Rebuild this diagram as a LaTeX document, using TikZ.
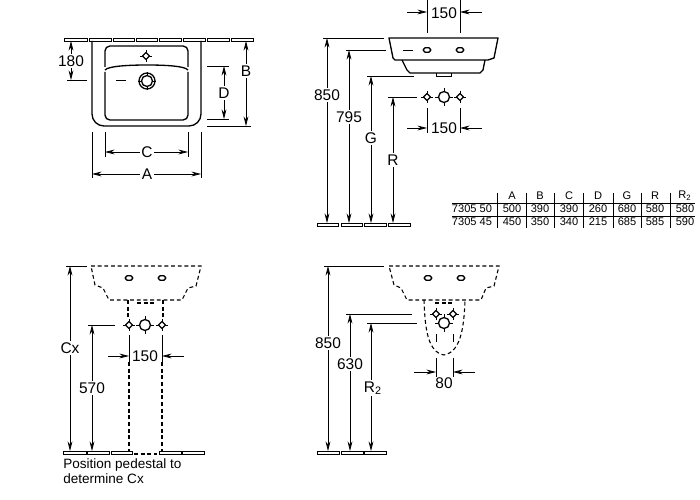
\documentclass[tikz,border=0pt]{standalone}
\usepackage{fontspec}
\setmainfont{Liberation Sans}
\usetikzlibrary{arrows.meta}
\tikzset{
  thick line/.style={black,line width=0.75pt,line join=round},
  thin line/.style={black,line width=0.45pt},
  dash line/.style={black,line width=0.62pt,dash pattern=on 2.2pt off 1.6pt},
  dim line/.style={black,line width=0.45pt,{Stealth[length=5.5pt,width=2.8pt]}-{Stealth[length=5.5pt,width=2.8pt]}},
  dim arrow/.style={black,line width=0.45pt,-{Stealth[length=5.5pt,width=2.8pt]}},
  dim label/.style={fill=white,inner sep=1pt,font=\fontsize{8.8}{10}\selectfont},
  cell label/.style={inner sep=0pt,font=\fontsize{6.3}{8}\selectfont},
  note label/.style={inner sep=0pt,anchor=west,font=\fontsize{7.7}{9}\selectfont}
}
\newcommand{\tapsmall}[2]{
  \draw [thin line] (#1-6,#2) -- (#1+6,#2) (#1,#2-6) -- (#1,#2+6);
  \draw [thick line,fill=white] (#1,#2+3.5) -- (#1+3.5,#2) -- (#1,#2-3.5) -- (#1-3.5,#2) -- cycle;
}
\newcommand{\tapbig}[2]{
  \draw [thin line] (#1-9,#2) -- (#1+9,#2) (#1,#2-9) -- (#1,#2+9);
  \draw [thick line,fill=white] (#1,#2) circle (5.5);
}
\newcommand{\holeside}[2]{
  \draw [thick line] (#1-4,#2) -- (#1-2,#2-2.2) -- (#1+2,#2-2.2) -- (#1+4,#2) -- (#1+2,#2+2.2) -- (#1-2,#2+2.2) -- cycle;
}
\newcommand{\tile}[3]{
  \draw [thin line,fill=white] (#1,#3) rectangle (#2,#3-3);
}
\begin{document}
\begin{tikzpicture}[x=0.02cm,y=0.02cm]
\useasboundingbox (0,0) rectangle (700,-500);
% top left plan
\foreach \a/\b in {64/87,89/111,113/134,136/157,159/181,183/205,207/229,231/253}
  \tile{\a}{\b}{-38};
\draw [thick line] (92,-41) -- (92,-114) arc (180:270:12) -- (189,-126) arc (270:360:12) -- (201,-41);
\draw [thick line,rounded corners=2.8pt] (105,-67) -- (105,-46) -- (188,-46) -- (188,-67);
\draw [thick line,rounded corners=2.8pt] (105,-72) -- (105,-120) -- (188,-120) -- (188,-72);
\draw [thick line] (105,-70) .. controls (108,-66) and (130,-65) .. (147,-65) .. controls (165,-65) and (185,-66) .. (188,-70);
\tapsmall{146}{-56}
\tapbig{147}{-81}
\draw [thick line] (147,-81) circle (8);
\draw [thin line] (67,-80) -- (87,-80);
\draw [thin line] (116,-80) -- (126,-80);
\draw [thin line] (207,-66) -- (229,-66);
\draw [thin line] (207,-119) -- (229,-119);
\draw [thin line] (207,-126) -- (251,-126);
\draw [thin line] (92,-132) -- (92,-178);
\draw [thin line] (201,-132) -- (201,-178);
\draw [thin line] (105,-132) -- (105,-157);
\draw [thin line] (188,-132) -- (188,-157);
\draw [dim line] (71,-41) -- (71,-80);
\draw [dim line] (224,-66) -- (224,-119);
\draw [dim line] (246,-41) -- (246,-126);
\draw [dim line] (105,-152) -- (188,-152);
\draw [dim line] (92,-174) -- (201,-174);
\node [dim label] (lbl180) at (71,-61) {180};
\node [dim label] (lblD) at (224,-93) {D};
\node [dim label] (lblB) at (246,-71) {B};
\node [dim label] (lblC) at (147,-152) {C};
\node [dim label] (lblA) at (147,-174) {A};
% top right side view
\draw [thick line,line join=round] (389,-38) -- (498,-38) -- (494,-58) -- (488,-60) -- (395,-60) -- (393,-58) -- cycle;
\draw [thick line] (402,-60) -- (407,-70) -- (410,-73) -- (480,-73) -- (483,-70) -- (485,-60);
\draw [thin line] (436,-73) -- (436,-76) -- (451,-76) -- (451,-73);
\holeside{427}{-50}
\holeside{460}{-50}
\tapsmall{427}{-97}
\tapbig{444}{-97}
\tapsmall{460}{-97}
\foreach \a/\b in {317/338,341/362,364/386,388/410}
  \tile{\a}{\b}{-223};
\draw [thin line] (323,-38) -- (384,-38);
\draw [thin line] (346,-50) -- (386,-50);
\draw [thin line] (403,-50) -- (413,-50);
\draw [thin line] (367,-76) -- (414,-76);
\draw [thin line] (388,-97) -- (417,-97);
\draw [dim line] (327,-38) -- (327,-223);
\draw [dim line] (349,-50) -- (349,-223);
\draw [dim line] (371,-76) -- (371,-223);
\draw [dim line] (393,-97) -- (393,-223);
\draw [thin line] (427,0) -- (427,-33);
\draw [thin line] (460,0) -- (460,-33);
\draw [dim arrow] (407,-12) -- (427,-12);
\draw [dim arrow] (482,-12) -- (460,-12);
\draw [thin line] (427,-108) -- (427,-133);
\draw [thin line] (460,-108) -- (460,-133);
\draw [dim arrow] (407,-128) -- (427,-128);
\draw [dim arrow] (482,-128) -- (460,-128);
\node [dim label,inner sep=0pt] (lblTopW) at (444,-13) {150};
\node [dim label,inner sep=0pt] (lblLowW) at (444,-128) {150};
\node [dim label] (lbl850) at (327,-95) {850};
\node [dim label] (lbl795) at (349,-117) {795};
\node [dim label] (lblG) at (371,-138) {G};
\node [dim label] (lblR) at (393,-160) {R};
% table
\draw [thin line] (452,-203) -- (695,-203);
\draw [thin line] (452,-216) -- (695,-216);
\foreach \x in {497,526,554,583,613,641,670}
  \draw [thin line] (\x,-193) -- (\x,-228);
\node [cell label] (rowOne) at (472,-209) {7305 50};
\node [cell label] (rowTwo) at (472,-222) {7305 45};
\foreach \x/\h/\p/\q in {512/A/500/450,540/B/390/350,569/C/390/340,598/D/260/215,627/G/680/685,655/R/580/585,685/R\textsubscript{2}/580/590}{
  \node [cell label] (head\x) at (\x,-196) {\h};
  \node [cell label] (one\x) at (\x,-209) {\p};
  \node [cell label] (two\x) at (\x,-222) {\q};
}
% bottom left pedestal
\draw [dash line] (91,-266) -- (201,-266) -- (196,-286) -- (188,-288) -- (182,-300) -- (109,-300) -- (103,-288) -- (95,-285) -- cycle;
\draw [dash line] (128,-300) -- (128,-318);
\draw [dash line] (163,-300) -- (163,-318);
\draw [dash line] (137,-303) -- (155,-303);
\holeside{129}{-278}
\holeside{162}{-278}
\tapsmall{129}{-325}
\tapbig{145}{-325}
\tapsmall{162}{-325}
\foreach \a/\b in {63/86,87/109,111/132,159/181,182/204}
  \tile{\a}{\b}{-451};
\draw [dash line] (134,-454) -- (157,-454);
\draw [thin line] (129,-335) -- (129,-362);
\draw [thin line] (162,-335) -- (162,-362);
\draw [dash line] (129,-362) -- (129,-452);
\draw [dash line] (162,-362) -- (162,-452);
\draw [thin line] (66,-266) -- (87,-266);
\draw [thin line] (88,-325) -- (115,-325);
\draw [dim line] (70,-266) -- (70,-451);
\draw [dim line] (92,-325) -- (92,-451);
\draw [dim arrow] (108,-356) -- (129,-356);
\draw [dim arrow] (184,-356) -- (162,-356);
\node [dim label] (lblCx) at (70,-348) {Cx};
\node [dim label] (lbl570) at (92,-388) {570};
\node [dim label,inner sep=0pt] (lblPedW) at (145,-356) {150};
\node [note label] (noteOne) at (63,-465) {Position pedestal to};
\node [note label] (noteTwo) at (63,-479) {determine Cx};
% bottom right half pedestal
\draw [dash line] (389,-266) -- (499,-266) -- (494,-286) -- (486,-288) -- (481,-300) -- (407,-300) -- (401,-288) -- (394,-285) -- cycle;
\draw [dash line] (424,-300) .. controls (425,-330) and (428,-352) .. (444,-355) .. controls (460,-352) and (464,-330) .. (465,-300);
\draw [dash line] (435,-303) -- (453,-303);
\holeside{428}{-278}
\holeside{461}{-278}
\tapsmall{436}{-314}
\tapsmall{453}{-314}
\tapbig{444}{-323}
\foreach \a/\b in {317/339,341/363,364/386}
  \tile{\a}{\b}{-451};
\draw [thin line] (436,-334) -- (436,-342);
\draw [thin line] (453,-334) -- (453,-342);
\draw [thin line] (436,-358) -- (436,-377);
\draw [thin line] (453,-358) -- (453,-377);
\draw [thin line] (324,-266) -- (384,-266);
\draw [thin line] (346,-314) -- (412,-314);
\draw [thin line] (367,-323) -- (417,-323);
\draw [dim line] (328,-266) -- (328,-451);
\draw [dim line] (350,-314) -- (350,-451);
\draw [dim line] (371,-323) -- (371,-451);
\draw [dim arrow] (414,-372) -- (436,-372);
\draw [dim arrow] (475,-372) -- (453,-372);
\node [dim label] (lblS850) at (328,-343) {850};
\node [dim label] (lbl630) at (350,-364) {630};
\node [dim label] (lblRtwo) at (373,-388) {R\textsubscript{2}};
\node [dim label,fill=none] (lbl80) at (444,-383) {80};
\end{tikzpicture}
\end{document}
